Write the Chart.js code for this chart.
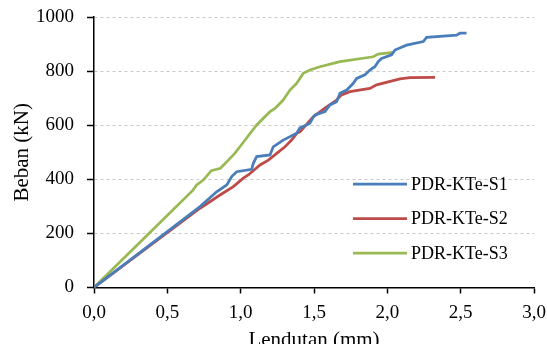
<!DOCTYPE html>
<html>
<head>
<meta charset="utf-8">
<script src="https://cdn.jsdelivr.net/npm/chart.js@4/dist/chart.umd.min.js"></script>
<style>
  html, body { margin: 0; padding: 0; background: #fff; }
  #wrap { width: 547px; height: 344px; }
</style>
</head>
<body>
<div id="wrap"><canvas id="chart" width="547" height="344"></canvas></div>
<script>
'use strict';

// Lendutan (mm) vs Beban (kN)
const seriesLabels = ['PDR-KTe-S1', 'PDR-KTe-S2', 'PDR-KTe-S3'];
const seriesColors = ['#4A7EBB', '#BE4B48', '#98B954'];

const s1X = [0, 0.723, 0.836, 0.905, 0.939, 0.973, 1.075, 1.086, 1.109, 1.2, 1.222, 1.29, 1.382, 1.404, 1.449, 1.472, 1.495, 1.507, 1.575, 1.609, 1.654, 1.677, 1.723, 1.768, 1.791, 1.847, 1.881, 1.915, 1.938, 1.961, 2.029, 2.052, 2.131, 2.245, 2.268, 2.472, 2.495, 2.54];
const s1Y = [0, 299, 354, 379, 410, 428, 437, 459, 484, 490, 520, 545, 570, 590, 601, 607, 630, 638, 650, 675, 687, 718, 730, 755, 773, 786, 804, 816, 835, 847, 860, 878, 896, 909, 925, 933, 940, 940];

const s2X = [0, 0.723, 0.79, 0.859, 0.95, 1.018, 1.052, 1.132, 1.189, 1.246, 1.302, 1.347, 1.382, 1.404, 1.495, 1.586, 1.654, 1.688, 1.745, 1.881, 1.927, 2.086, 2.154, 2.325];
const s2Y = [0, 293, 317, 342, 373, 404, 416, 453, 471, 496, 520, 545, 570, 575, 631, 668, 693, 712, 724, 736, 749, 771, 776, 777];

const s3X = [0, 0.675, 0.70, 0.745, 0.80, 0.862, 0.916, 0.96, 1.017, 1.109, 1.2, 1.234, 1.29, 1.336, 1.382, 1.427, 1.472, 1.54, 1.677, 1.904, 1.938, 2.04];
const s3Y = [0, 360, 379, 397, 432, 441, 471, 496, 536, 601, 650, 662, 693, 730, 755, 792, 804, 816, 835, 853, 863, 869];

const xTicks = [0, 0.5, 1, 1.5, 2, 2.5, 3];
const yTicks = [0, 200, 400, 600, 800, 1000];

const FONT = "'Liberation Serif', 'Times New Roman', serif";

const toPoints = (xs, ys) => xs.map((x, i) => ({ x, y: ys[i] }));
const allX = [s1X, s2X, s3X];
const allY = [s1Y, s2Y, s3Y];

// legend drawn inside the plot, like the Excel original
const insideLegend = {
  id: 'insideLegend',
  afterDraw(chart) {
    const ctx = chart.ctx;
    ctx.save();
    chart.data.datasets.forEach((ds, i) => {
      const y = 184 + i * 34.5;
      ctx.strokeStyle = ds.borderColor;
      ctx.lineWidth = 2.75;
      ctx.beginPath();
      ctx.moveTo(353, y);
      ctx.lineTo(407, y);
      ctx.stroke();
      ctx.fillStyle = '#000';
      ctx.font = '18px ' + FONT;
      ctx.textBaseline = 'middle';
      ctx.fillText(ds.label, 411, y + 1);
    });
    ctx.restore();
  }
};

new Chart(document.getElementById('chart'), {
  type: 'scatter',
  data: {
    datasets: seriesLabels.map((label, i) => ({
      label,
      data: toPoints(allX[i], allY[i]),
      showLine: true,
      borderColor: seriesColors[i],
      backgroundColor: seriesColors[i],
      borderWidth: 2.75,
      pointRadius: 0,
      tension: 0,
    }))
  },
  options: {
    responsive: false,
    animation: false,
    devicePixelRatio: 1,
    layout: { padding: { top: 17, right: 13, left: 0, bottom: 0 } },
    plugins: { legend: { display: false }, tooltip: { enabled: false } },
    scales: {
      x: {
        type: 'linear', min: 0, max: 3,
        afterBuildTicks: s => { s.ticks = xTicks.map(v => ({ value: v })); },
        afterFit: s => { s.height = 56.5; s.paddingLeft = 0; s.paddingRight = 0; },
        ticks: {
          color: '#000', padding: 8, maxRotation: 0,
          font: { family: FONT, size: 19 },
          callback: v => v.toFixed(1).replace('.', ',')
        },
        grid: { drawOnChartArea: false, drawTicks: true, tickLength: 6, tickColor: '#000', tickWidth: 1.5 },
        border: { color: '#000', width: 1.5 },
        title: {
          display: true, text: 'Lendutan (mm)', color: '#000',
          font: { family: FONT, size: 21 }, padding: { top: 0, bottom: -9 }
        }
      },
      y: {
        type: 'linear', min: 0, max: 1000,
        afterBuildTicks: s => { s.ticks = yTicks.map(v => ({ value: v })); },
        afterFit: s => { s.width = 94; s.paddingTop = 0; s.paddingBottom = 0; },
        ticks: { color: '#000', padding: 13, font: { family: FONT, size: 19 }, callback: v => String(v) },
        grid: {
          color: c => c.tick && c.tick.value === 0 ? 'rgba(0,0,0,0)' : '#C8C8C8',
          lineWidth: 1, drawTicks: true, tickLength: 7, tickColor: '#000', tickWidth: 1.5
        },
        border: { color: '#000', width: 1.5, dash: [3, 3] },
        title: {
          display: true, text: 'Beban (kN)', color: '#000',
          font: { family: FONT, size: 21 }, padding: { top: 10, bottom: 0 }
        }
      }
    }
  },
  plugins: [insideLegend]
});
</script>
</body>
</html>
